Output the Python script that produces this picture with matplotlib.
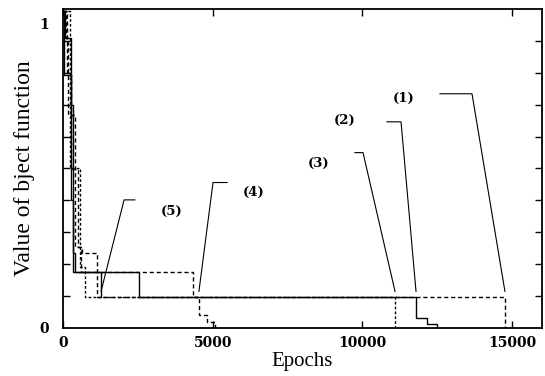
import numpy as np
import matplotlib
matplotlib.use("Agg")
import matplotlib.pyplot as plt

# step curves: epoch where each level starts, and the level
c1_ep = [0, 100, 170, 400, 635, 1135, 14760]
c1_val = [1.04, 0.95, 0.70, 0.265, 0.245, 0.101, 0.0]
c2_ep = [0, 70, 270, 330, 400, 2540, 11790, 12160, 12490]
c2_val = [1.04, 0.95, 0.73, 0.245, 0.183, 0.101, 0.033, 0.013, 0.0]
c3_ep = [0, 235, 570, 735, 11090]
c3_val = [1.04, 0.523, 0.20, 0.101, 0.0]
c4_ep = [0, 130, 270, 500, 600, 4340, 4540, 4810, 5080]
c4_val = [1.04, 0.83, 0.52, 0.265, 0.183, 0.101, 0.042, 0.02, 0.0]
c5_ep = [0, 30, 260, 330, 1270]
c5_val = [1.04, 0.83, 0.42, 0.183, 0.101]

labels = ["(1)", "(2)", "(3)", "(4)", "(5)"]
label_x = [11360, 9420, 8520, 6380, 3640]
label_y = [0.752, 0.68, 0.54, 0.444, 0.382]
# short horizontal bar of each leader line (start, end, height)
bar_x0 = [12590, 10820, 9750, 5010, 2040]
bar_x1 = [13660, 11290, 10020, 5480, 2400]
bar_y = [0.768, 0.676, 0.575, 0.477, 0.42]

curves = [(c1_ep, c1_val, (0, (3, 2))),
          (c2_ep, c2_val, "-"),
          (c3_ep, c3_val, (0, (2, 1.5))),
          (c4_ep, c4_val, (0, (3, 2))),
          (c5_ep, c5_val, "-")]

fig = plt.figure(figsize=(5.45, 3.76), dpi=100)
ax = fig.add_axes([0.1156, 0.1277, 0.879, 0.8484])

for ep, val, ls in curves:
    ax.step(ep, val, where="post", color="black", lw=1.0, linestyle=ls)

# leader lines from the labels to the point where each curve leaves the last plateau
for i, (ep, val, ls) in enumerate(curves):
    k = next((j for j, v in enumerate(val) if v < 0.09), len(val) - 1)
    end_x = ep[k]
    end_y = 0.12
    if i < 3:
        px = [bar_x0[i], bar_x1[i], end_x]
    else:
        px = [bar_x1[i], bar_x0[i], end_x]
    py = [bar_y[i], bar_y[i], end_y]
    ax.plot(px, py, color="black", lw=0.8)
    ax.text(label_x[i], label_y[i], labels[i], ha="center", va="center",
            fontsize=9.5, fontweight="bold", family="DejaVu Serif")

ax.set_xlim(0, 16000)
ax.set_ylim(0, 1.046)
ax.set_xticks([0, 5000, 10000, 15000])
ax.set_yticks([0, 1])
ax.set_yticks(np.arange(1, 10) * 0.1046, minor=True)
ax.tick_params(which="both", direction="in", top=True, right=True,
               length=5, width=1.0)
ax.tick_params(axis="x", which="major", pad=6)
ax.tick_params(axis="y", which="major", length=0, pad=10)
for lab in ax.get_xticklabels() + ax.get_yticklabels():
    lab.set_fontfamily("DejaVu Serif")
    lab.set_fontweight("bold")
    lab.set_fontsize(10)
for sp in ax.spines.values():
    sp.set_linewidth(1.3)

ax.set_xlabel("Epochs", fontsize=15, family="Liberation Serif", labelpad=1)
ax.set_ylabel("Value of bject function", fontsize=17, family="Liberation Serif",
              labelpad=3)

fig.savefig("out.png", dpi=100)
